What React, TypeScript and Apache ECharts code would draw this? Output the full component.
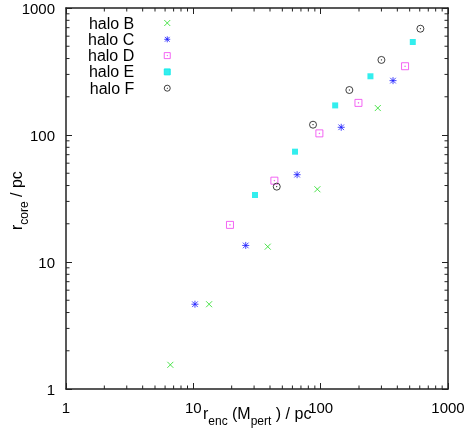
import { useEffect, useRef } from "react";
import * as echarts from "echarts";

const FONT = "'Liberation Sans', Arial, Helvetica, sans-serif";

const seriesNames = ["halo B", "halo C", "halo D", "halo E", "halo F"];

const haloBX = [6.6, 13.3, 38.4, 94.2, 281];
const haloBY = [1.55, 4.65, 13.2, 37.4, 163];
const haloCX = [10.3, 25.8, 65.3, 145, 370];
const haloCY = [4.65, 13.5, 48.7, 115, 268];
const haloDX = [19.4, 43.3, 97.7, 198, 460];
const haloDY = [19.6, 43.7, 103, 179, 348];
const haloEX = [30.5, 62.9, 130, 246, 529];
const haloEY = [33.7, 73.9, 171, 290, 540];
const haloFX = [45.2, 87.1, 168, 300, 607];
const haloFY = [39.2, 120.5, 226, 390, 687];

const axisMin = 1;
const axisMax = 1000;
const decades = [1, 10, 100];
const minorSteps = [2, 3, 4, 5, 6, 7, 8, 9];

const colors = ["#22dd22", "#1a1aff", "#f040f0", "#00eaea", "#111111"];
const symbols = [
  "path://M0,0L10,10M10,0L0,10",
  "path://M1,1L9,9M9,1L1,9M5,0L5,10M0,5L10,5",
  "path://M0,0L10,0L10,10L0,10Z M4.6,4.6L5.4,4.6L5.4,5.4L4.6,5.4Z",
  "path://M0,0L10,0L10,10L0,10Z",
  "path://M10,5A5,5,0,1,1,0,5A5,5,0,1,1,10,5Z M4.7,4.7L5.3,4.7L5.3,5.3L4.7,5.3Z",
];
const filled = [false, false, false, true, false];
const symbolSizes = [6, 7, 7, 6, 7];

function pairs(xs: number[], ys: number[]) {
  return xs.map((x, i) => [x, ys[i]]);
}

export default function App() {
  const ref = useRef<HTMLDivElement>(null);
  useEffect(() => {
    const chart = echarts.init(ref.current!, null, { renderer: "svg" });
    const axisColor = "#222";
    const logAxis = (position: string, showLabel: boolean) => ({
      type: "log",
      logBase: 10,
      min: axisMin,
      max: axisMax,
      position,
      axisLine: { show: true, onZero: false, lineStyle: { color: axisColor, width: 1.5 } },
      axisTick: { show: true, inside: true, length: 6, lineStyle: { color: axisColor, width: 1 } },
      axisLabel: {
        show: showLabel,
        color: "#000",
        fontSize: 15,
        fontFamily: FONT,
        margin: 11,
        formatter: (v: number) => String(Math.round(v)),
      },
      splitLine: { show: false },
    });
    const minorTicks: number[][] = [];
    decades.forEach((d) => minorSteps.forEach((m) => minorTicks.push([d * m, d * m])));

    const data = [
      pairs(haloBX, haloBY),
      pairs(haloCX, haloCY),
      pairs(haloDX, haloDY),
      pairs(haloEX, haloEY),
      pairs(haloFX, haloFY),
    ];

    const scatterSeries = seriesNames.map((name, i) => ({
      name,
      type: "scatter",
      data: data[i],
      symbol: symbols[i],
      symbolSize: symbolSizes[i],
      itemStyle: filled[i]
        ? { color: colors[i], borderColor: colors[i], borderWidth: 0 }
        : { color: "none", borderColor: colors[i], borderWidth: 1 },
      z: 5,
    }));

    const option: any = {
      animation: false,
      grid: { left: 66, right: 22, top: 8, bottom: 43 },
      xAxis: [logAxis("bottom", true), logAxis("top", false)],
      yAxis: [logAxis("left", true), logAxis("right", false)],
      legend: {
        orient: "vertical",
        left: 88,
        top: 15,
        align: "right",
        padding: 0,
        itemGap: 0.3,
        itemWidth: 56,
        itemHeight: 6,
        data: seriesNames,
        textStyle: { fontSize: 16, fontFamily: FONT, color: "#000", lineHeight: 16 },
        itemStyle: { borderWidth: 1 },
        selectedMode: false,
      },
      graphic: [
        {
          type: "group",
          left: 203,
          top: 405,
          children: [
            { type: "text", x: 0, y: 9, style: { text: "r", font: `16px ${FONT}`, fill: "#000", verticalAlign: "middle" } },
            { type: "text", x: 5.3, y: 17, style: { text: "enc", font: `12px ${FONT}`, fill: "#000", verticalAlign: "middle" } },
            { type: "text", x: 24.6, y: 9, style: { text: " (M", font: `16px ${FONT}`, fill: "#000", verticalAlign: "middle" } },
            { type: "text", x: 47.7, y: 17, style: { text: "pert", font: `12px ${FONT}`, fill: "#000", verticalAlign: "middle" } },
            { type: "text", x: 68.4, y: 9, style: { text: " ) / pc", font: `16px ${FONT}`, fill: "#000", verticalAlign: "middle" } },
          ],
        },
        {
          type: "group",
          x: 16.5,
          y: 230,
          rotation: Math.PI / 2,
          children: [
            { type: "text", x: 0, y: 0, style: { text: "r", font: `16px ${FONT}`, fill: "#000", verticalAlign: "middle" } },
            { type: "text", x: 5.3, y: 7, style: { text: "core", font: `12px ${FONT}`, fill: "#000", verticalAlign: "middle" } },
            { type: "text", x: 28.6, y: 0, style: { text: " / pc", font: `16px ${FONT}`, fill: "#000", verticalAlign: "middle" } },
          ],
        },
      ],
      series: [
        {
          type: "custom",
          silent: true,
          clip: false,
          z: 3,
          data: minorTicks,
          renderItem: (_params: any, api: any) => {
            const p = api.coord([api.value(0), api.value(1)]);
            const lo = api.coord([axisMin, axisMin]);
            const hi = api.coord([axisMax, axisMax]);
            const L = lo[0];
            const B = lo[1];
            const R = hi[0];
            const T = hi[1];
            const style = { fill: axisColor };
            return {
              type: "group",
              children: [
                { type: "rect", shape: { x: p[0] - 0.5, y: B - 3.5, width: 1, height: 3.5 }, style },
                { type: "rect", shape: { x: p[0] - 0.5, y: T, width: 1, height: 3.5 }, style },
                { type: "rect", shape: { x: L, y: p[1] - 0.5, width: 3.5, height: 1 }, style },
                { type: "rect", shape: { x: R - 3.5, y: p[1] - 0.5, width: 3.5, height: 1 }, style },
              ],
            };
          },
        },
        ...scatterSeries,
      ],
    };
    chart.setOption(option);
    return () => chart.dispose();
  }, []);
  return <div ref={ref} style={{ position: "fixed", left: 0, top: 0, width: 470, height: 432 }} />;
}
